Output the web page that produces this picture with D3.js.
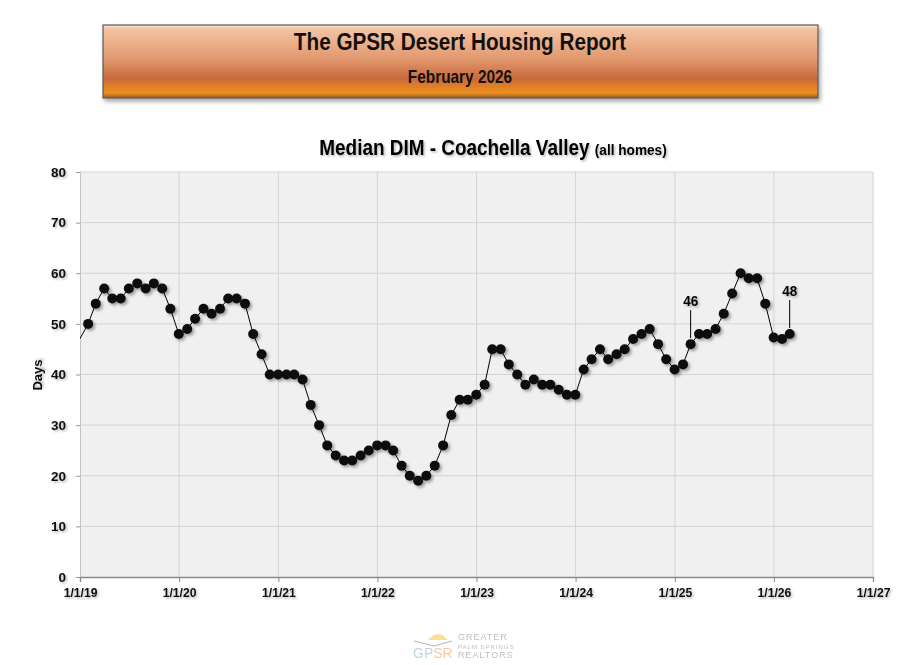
<!DOCTYPE html>
<html lang="en">
<head>
<meta charset="utf-8">
<style>
  body { margin: 0; background: #fff; }
  svg text { font-family: "Liberation Sans", Arial, sans-serif; font-weight: bold; }
</style>
</head>
<body>
<div id="chart"></div>
<script src="https://cdn.jsdelivr.net/npm/d3@7"></script>
<script>
// median days in MLS, one value per month (end of month), first entry Dec 2018
var firstMonth = "2018-12";
var medianDays = [
  47,
  50, 54, 57, 55, 55, 57, 58, 57, 58, 57, 53, 48,   // 2019
  49, 51, 53, 52, 53, 55, 55, 54, 48, 44, 40, 40,   // 2020
  40, 40, 39, 34, 30, 26, 24, 23, 23, 24, 25, 26,   // 2021
  26, 25, 22, 20, 19, 20, 22, 26, 32, 35, 35, 36,   // 2022
  38, 45, 45, 42, 40, 38, 39, 38, 38, 37, 36, 36,   // 2023
  41, 43, 45, 43, 44, 45, 47, 48, 49, 46, 43, 41,   // 2024
  42, 46, 48, 48, 49, 52, 56, 60, 59, 59, 54, 47.3, // 2025
  47, 48                                            // 2026
];
var calloutMonths = ["2025-02", "2026-02"];
var xTickLabels = ["1/1/19", "1/1/20", "1/1/21", "1/1/22", "1/1/23", "1/1/24", "1/1/25", "1/1/26", "1/1/27"];
var yTicks = [0, 10, 20, 30, 40, 50, 60, 70, 80];

var W = 915, H = 665;
var plot = { left: 80, right: 873, top: 172, bottom: 577 };

var parseMonth = d3.timeParse("%Y-%m");
var start = parseMonth(firstMonth);
var data = medianDays.map(function (v, i) {
  var m = d3.timeMonth.offset(start, i + 1);
  return { date: d3.timeDay.offset(m, -1), month: d3.timeFormat("%Y-%m")(d3.timeMonth.offset(start, i)), value: v };
});
var tickDates = xTickLabels.map(function (s) { return d3.timeParse("%m/%d/%y")(s); });

var x = d3.scaleTime().domain([tickDates[0], tickDates[tickDates.length - 1]]).range([plot.left, plot.right]);
var y = d3.scaleLinear().domain([0, 80]).range([plot.bottom, plot.top]);

var svg = d3.select("#chart").append("svg").attr("width", W).attr("height", H);
var defs = svg.append("defs");

var shadow = defs.append("filter").attr("id", "shadow").attr("x", "-50%").attr("y", "-50%").attr("width", "200%").attr("height", "200%");
shadow.append("feDropShadow").attr("dx", 2).attr("dy", 2).attr("stdDeviation", 1.4).attr("flood-color", "#000").attr("flood-opacity", 0.35);
var tshadow = defs.append("filter").attr("id", "tshadow").attr("x", "-20%").attr("y", "-30%").attr("width", "140%").attr("height", "160%");
tshadow.append("feDropShadow").attr("dx", 1.5).attr("dy", 1.5).attr("stdDeviation", 1).attr("flood-color", "#000").attr("flood-opacity", 0.3);
var boxShadow = defs.append("filter").attr("id", "boxshadow").attr("x", "-5%").attr("y", "-20%").attr("width", "110%").attr("height", "150%");
boxShadow.append("feDropShadow").attr("dx", 2).attr("dy", 3).attr("stdDeviation", 2).attr("flood-color", "#000").attr("flood-opacity", 0.35);

var grad = defs.append("linearGradient").attr("id", "hdr").attr("x1", 0).attr("y1", 0).attr("x2", 0).attr("y2", 1);
[["0%", "#fbe3d0"], ["6%", "#f4c3a3"], ["45%", "#e29a70"], ["74%", "#c96a3c"], ["82%", "#dc7a2a"], ["93%", "#eb8f1e"], ["100%", "#9a5a2a"]]
  .forEach(function (s) { grad.append("stop").attr("offset", s[0]).attr("stop-color", s[1]); });

// narrow look of the original fonts
function narrow(sel, cx, cy, sx) {
  return sel.attr("transform", "translate(" + cx + "," + cy + ") scale(" + sx + ",1)");
}

// header banner
svg.append("rect").attr("x", 103).attr("y", 25).attr("width", 715).attr("height", 73)
  .attr("fill", "url(#hdr)").attr("stroke", "#5a5a5a").attr("stroke-width", 1.2).attr("filter", "url(#boxshadow)");
narrow(svg.append("text"), 460, 50, 0.9).attr("text-anchor", "middle")
  .attr("font-size", 23).attr("fill", "#111").text("The GPSR Desert Housing Report");
narrow(svg.append("text"), 460, 83, 0.88).attr("text-anchor", "middle")
  .attr("font-size", 17.5).attr("fill", "#111").text("February 2026");

// chart title
var title = narrow(svg.append("text"), 493, 155, 0.88).attr("text-anchor", "middle")
  .attr("fill", "#000").attr("filter", "url(#tshadow)");
title.append("tspan").attr("font-size", 21.5).text("Median DIM - Coachella Valley ");
title.append("tspan").attr("font-size", 15.5).text("(all homes)");

// plot area
svg.append("rect").attr("x", plot.left).attr("y", plot.top)
  .attr("width", plot.right - plot.left).attr("height", plot.bottom - plot.top).attr("fill", "#f0f0f0");

svg.append("g").selectAll("line").data(yTicks.slice(1)).enter().append("line")
  .attr("x1", plot.left).attr("x2", plot.right)
  .attr("y1", function (d) { return y(d); }).attr("y2", function (d) { return y(d); })
  .attr("stroke", "#d3d3d3").attr("stroke-width", 1);
svg.append("g").selectAll("line").data(tickDates.slice(1)).enter().append("line")
  .attr("x1", function (d) { return x(d); }).attr("x2", function (d) { return x(d); })
  .attr("y1", plot.top).attr("y2", plot.bottom)
  .attr("stroke", "#d3d3d3").attr("stroke-width", 1);

// axes
var yAxis = svg.append("g").attr("transform", "translate(" + plot.left + ",0)")
  .call(d3.axisLeft(y).tickValues(yTicks).tickSize(4).tickPadding(10));
yAxis.select(".domain").attr("stroke", "#c4c4c4");
yAxis.selectAll(".tick line").attr("stroke", "#999");
yAxis.selectAll("text").attr("font-size", 13.5).attr("fill", "#111").attr("filter", "url(#tshadow)");

var xAxis = svg.append("g").attr("transform", "translate(0," + plot.bottom + ")")
  .call(d3.axisBottom(x).tickValues(tickDates).tickSize(5).tickPadding(5)
    .tickFormat(function (d, i) { return xTickLabels[i]; }));
xAxis.select(".domain").attr("stroke", "#8a8a8a").attr("stroke-width", 1.3);
xAxis.selectAll(".tick line").attr("stroke", "#8a8a8a");
xAxis.selectAll("text").attr("font-size", 13.5).attr("fill", "#111").attr("filter", "url(#tshadow)")
  .attr("transform", "scale(0.9,1)");

svg.append("text").attr("transform", "translate(42,375) rotate(-90)").attr("text-anchor", "middle")
  .attr("font-size", 13).attr("fill", "#111").attr("filter", "url(#tshadow)").text("Days");

// series
defs.append("clipPath").attr("id", "clip").append("rect")
  .attr("x", plot.left).attr("y", plot.top - 10).attr("width", plot.right - plot.left).attr("height", plot.bottom - plot.top + 10);
var series = svg.append("g").attr("clip-path", "url(#clip)");
series.append("path").datum(data)
  .attr("d", d3.line().x(function (d) { return x(d.date); }).y(function (d) { return y(d.value); }))
  .attr("fill", "none").attr("stroke", "#000").attr("stroke-width", 1);
series.append("g").attr("filter", "url(#shadow)").selectAll("circle")
  .data(data.filter(function (d) { return d.date > x.domain()[0]; })).enter().append("circle")
  .attr("cx", function (d) { return x(d.date); }).attr("cy", function (d) { return y(d.value); })
  .attr("r", 5).attr("fill", "#111");

// callouts
var callouts = data.filter(function (d) { return calloutMonths.indexOf(d.month) >= 0; });
var cg = svg.append("g").selectAll("g").data(callouts).enter().append("g");
cg.append("line")
  .attr("x1", function (d) { return x(d.date); }).attr("x2", function (d) { return x(d.date); })
  .attr("y1", function (d) { return y(d.value) - 6; }).attr("y2", function (d) { return y(d.value) - 34; })
  .attr("stroke", "#000").attr("stroke-width", 1);
cg.append("text")
  .attr("transform", function (d) { return "translate(" + x(d.date) + "," + (y(d.value) - 38) + ") scale(0.9,1)"; })
  .attr("text-anchor", "middle").attr("font-size", 15).attr("fill", "#000").attr("filter", "url(#tshadow)")
  .text(function (d) { return Math.round(d.value); });

// footer logo
var logo = svg.append("g").attr("opacity", 0.55);
logo.append("path").attr("d", "M428,640 Q438,628 448,640 Z").attr("fill", "#f2c840");
logo.append("path").attr("d", "M414,641 L434,646 L452,641").attr("fill", "none").attr("stroke", "#777").attr("stroke-width", 1);
logo.append("text").attr("x", 413).attr("y", 658).attr("font-size", 14)
  .style("font-weight", "normal")
  .selectAll("tspan").data([["GP", "#7ab8d8"], ["SR", "#e8a05a"]]).enter().append("tspan")
  .attr("fill", function (d) { return d[1]; }).text(function (d) { return d[0]; });
[["GREATER", 640, 9], ["PALM SPRINGS", 649, 6], ["REALTORS", 658, 9]].forEach(function (t) {
  logo.append("text").attr("x", 458).attr("y", t[1]).attr("font-size", t[2]).attr("fill", "#888")
    .style("font-weight", "normal").attr("letter-spacing", 1).text(t[0]);
});
</script>
</body>
</html>
